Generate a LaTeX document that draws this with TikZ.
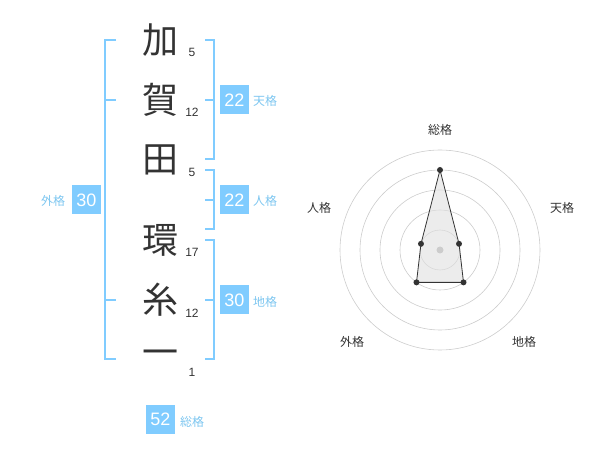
\documentclass[tikz,border=0pt]{standalone}
\usepackage{fontspec}
\setmainfont{Liberation Sans}
\newfontfamily\cjk{Noto Sans CJK JP}
\usetikzlibrary{calc}
\definecolor{bblue}{RGB}{128,204,255}
\definecolor{lblue}{RGB}{125,198,240}
\definecolor{ink}{RGB}{51,51,51}
\definecolor{ringc}{RGB}{204,204,204}
\tikzset{
  kanji/.style={inner sep=0pt, text=ink, font=\cjk\fontsize{36}{36}\selectfont},
  num/.style={inner sep=0pt, text=ink, font=\fontsize{12}{12}\selectfont},
  bracket/.style={draw=bblue, line width=2pt},
  valbox/.style={fill=bblue, text=white, minimum width=29pt, minimum height=29pt, inner sep=0pt, font=\fontsize{18}{18}\selectfont},
  kaku/.style={inner sep=0pt, text=lblue, font=\cjk\fontsize{12}{12}\selectfont},
  axislab/.style={inner sep=0pt, text=ink, font=\cjk\fontsize{12}{12}\selectfont},
  ring/.style={draw=ringc, line width=0.6pt},
  dot/.style={circle, fill=ink, inner sep=0pt, minimum size=6pt}
}
\begin{document}
\begin{tikzpicture}[x=1pt,y=-1pt]
\useasboundingbox (0,0) rectangle (600,470);
% kanji
\node[kanji] (k1) at (160,40) {加};
\node[kanji] (k2) at (160,100) {賀};
\node[kanji] (k3) at (160,160) {田};
\node[kanji] (k4) at (160,240) {環};
\node[kanji] (k5) at (160,300) {糸};
\node[kanji] (k6) at (160,358) {一};
% stroke counts
\node[num] (n1) at (192,52) {5};
\node[num] (n2) at (192,112) {12};
\node[num] (n3) at (192,172) {5};
\node[num] (n4) at (192,252) {17};
\node[num] (n5) at (192,313) {12};
\node[num] (n6) at (192,372) {1};
% brackets
\draw[bracket] (116,40) -- (105,40) -- (105,359) -- (116,359);
\draw[bracket] (105,100) -- (116,100);
\draw[bracket] (105,300) -- (116,300);
\draw[bracket] (205,40) -- (214,40) -- (214,159) -- (205,159);
\draw[bracket] (214,100) -- (205,100);
\draw[bracket] (205,170) -- (214,170) -- (214,229) -- (205,229);
\draw[bracket] (214,200) -- (205,200);
\draw[bracket] (205,240) -- (214,240) -- (214,359) -- (205,359);
\draw[bracket] (214,300) -- (205,300);
% value boxes
\node[valbox] (ten) at (234.5,100) {22};
\node[kaku] (tenl) at (265,101) {天格};
\node[valbox] (jin) at (234.5,200) {22};
\node[kaku] (jinl) at (265,201) {人格};
\node[valbox] (chi) at (234.5,300) {30};
\node[kaku] (chil) at (265,302) {地格};
\node[valbox] (gai) at (86.5,200) {30};
\node[kaku] (gail) at (53,201) {外格};
\node[valbox] (sou) at (160.5,419) {52};
\node[kaku] (soul) at (192,422) {総格};
% radar
\coordinate (C) at (440,250);
\foreach \r in {20,40,60,80,100} \draw[ring] (C) circle[radius=\r pt];
\coordinate (pS) at ($(C)+(90:80pt)$);
\coordinate (pT) at ($(C)+(18:20pt)$);
\coordinate (pC) at ($(C)+(-54:40pt)$);
\coordinate (pG) at ($(C)+(234:40pt)$);
\coordinate (pJ) at ($(C)+(162:20pt)$);
\draw[ink, line width=0.8pt, fill=black!12, fill opacity=0.6] (pS) -- (pT) -- (pC) -- (pG) -- (pJ) -- cycle;
\node[circle, fill=ringc, inner sep=0pt, minimum size=7pt] (cdot) at (C) {};
\foreach \p in {pS,pT,pC,pG,pJ} \node[dot] (d\p) at (\p) {};
\node[axislab] (aS) at (440,130) {総格};
\node[axislab] (aT) at (562,208) {天格};
\node[axislab] (aJ) at (319,208) {人格};
\node[axislab] (aG) at (352,342) {外格};
\node[axislab] (aC) at (524,342) {地格};
\end{tikzpicture}
\end{document}
